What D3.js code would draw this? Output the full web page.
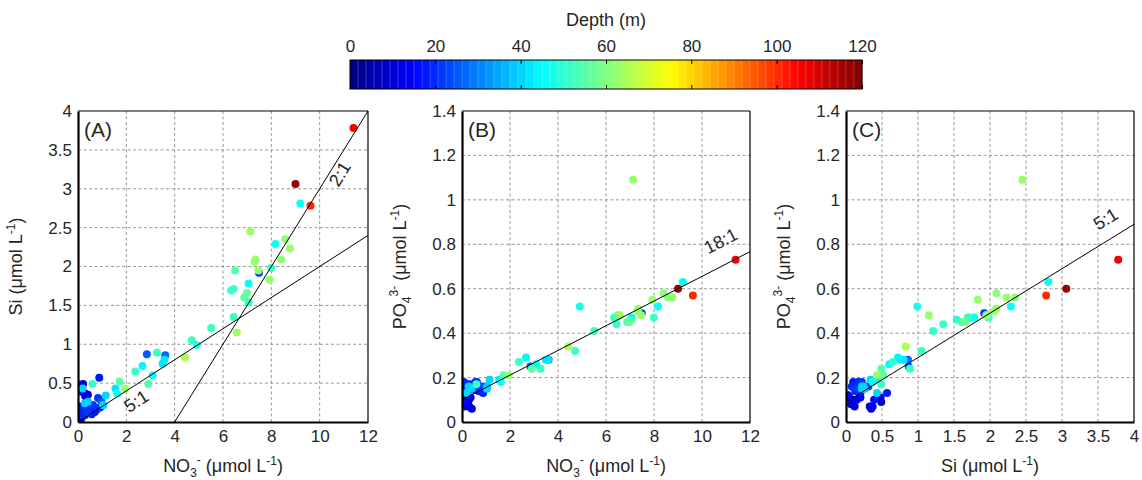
<!DOCTYPE html>
<html><head><meta charset="utf-8">
<script src="https://cdn.jsdelivr.net/npm/d3@7"></script>
<style>body{margin:0;background:#fff}svg{display:block}text{font-family:"Liberation Sans",Arial,sans-serif;fill:#262626}</style>
</head><body>
<svg id="c" width="1142" height="480"></svg>
<script>
// ---- data: one entry per sample ----
const no3 = [11.4,9.0,9.62,9.2,7.13,8.17,8.58,8.77,7.34,7.31,8.41,7.99,7.49,7.47,7.93,7.06,6.5,6.34,6.44,6.99,6.88,7.06,6.44,6.57,5.51,4.71,4.91,4.43,
  2.85,3.27,3.61,3.58,3.5,2.67,2.37,3.09,2.91,1.72,1.95,1.55,1.62,0.88,0.6,1.15,1.05,0.83,0.69,0.55,0.21,0.07,0.19,0.14,0.28,0.41,0.3,
  0.41,0.28,0.07,0.14,0.21,0.07,0.35,0.62,0.97,1.04,0.14,0.0,0.05,0.1,0.0,0.5,0.78,0.43,0.92,0.22,0.08,0.57,0.1,0.36,0.29];
const si = [3.78,3.06,2.78,2.81,2.45,2.29,2.35,2.23,2.09,2.06,2.09,1.98,1.92,1.95,1.83,1.78,1.95,1.69,1.71,1.66,1.60,1.54,1.35,1.15,1.21,1.05,0.99,0.83,
  0.87,0.89,0.86,0.80,0.75,0.72,0.65,0.60,0.49,0.52,0.43,0.43,0.37,0.57,0.49,0.34,0.22,0.31,0.13,0.18,0.49,0.48,0.43,0.39,0.37,0.35,0.33,
  0.26,0.24,0.20,0.15,0.11,0.07,0.15,0.22,0.26,0.22,0.05,0.03,0.10,0.12,0.15,0.14,0.16,0.12,0.19,0.08,0.17,0.10,0.02,0.20,0.09];
const po4 = [0.73,0.60,0.57,0.63,1.09,0.52,0.56,0.56,0.51,0.50,0.58,0.47,0.49,0.48,0.55,0.47,0.48,0.47,0.47,0.45,0.45,0.46,0.44,0.48,0.41,0.32,0.52,0.34,
  0.25,0.24,0.28,0.28,0.28,0.29,0.27,0.26,0.24,0.21,0.21,0.19,0.18,0.13,0.17,0.19,0.16,0.16,0.14,0.15,0.09,0.11,0.13,0.10,0.07,0.06,0.07,
  0.15,0.16,0.13,0.16,0.17,0.08,0.17,0.18,0.16,0.15,0.11,0.12,0.08,0.07,0.10,0.145,0.137,0.15,0.145,0.16,0.18,0.18,0.12,0.11,0.10];
const depth = [105,118,100,46,62,46,60,62,62,63,60,52,22,62,62,45,55,52,52,58,55,50,52,62,52,52,48,65,
  25,52,27,42,42,44,52,45,55,55,62,42,45,18,52,40,38,22,10,15,8,10,40,15,12,10,8,
  38,40,15,18,12,10,20,22,25,40,10,15,5,8,12,18,20,22,15,20,20,18,12,14,10];

const xTicksN = [0,2,4,6,8,10,12];
const xTicksSi = [0,0.5,1,1.5,2,2.5,3,3.5,4];
const yTicksSi = [0,0.5,1,1.5,2,2.5,3,3.5,4];
const yTicksP = [0,0.2,0.4,0.6,0.8,1,1.2,1.4];
const depthTicks = [0,20,40,60,80,100,120];

// ---- colormap (MATLAB jet, 64 levels) ----
function jet(t){
  const c = v => Math.max(0, Math.min(1, v));
  const r = c(Math.min(4*t-1.5, -4*t+4.5)), g = c(Math.min(4*t-0.5, -4*t+3.5)), b = c(Math.min(4*t+0.5, -4*t+2.5));
  return d3.rgb(r*255, g*255, b*255).toString();
}
const NLEV = 64;
const depthColor = d => { let k = Math.floor(d/120*NLEV); k = Math.max(0, Math.min(NLEV-1, k)); return jet((k+0.5)/NLEV); };

const svg = d3.select("#c");
const FONT = '"Liberation Sans",Arial,sans-serif';
const TICK_FS = 17, LAB_FS = 18, SUB_FS = 12;

// ---- colorbar ----
const cbx = d3.scaleLinear().domain([0,120]).range([350,862]);
const cbTop = 60, cbBot = 89;
const levels = d3.range(NLEV);
svg.append("g").selectAll("rect").data(levels).join("rect")
  .attr("x", k => cbx(k*120/NLEV)).attr("y", cbTop)
  .attr("width", cbx(120/NLEV)-cbx(0)+0.3).attr("height", cbBot-cbTop)
  .attr("fill", k => jet((k+0.5)/NLEV));
svg.append("g").selectAll("line").data(levels.slice(1)).join("line")
  .attr("x1", k => cbx(k*120/NLEV)).attr("x2", k => cbx(k*120/NLEV))
  .attr("y1", cbTop).attr("y2", cbBot).attr("stroke", "rgba(255,255,255,0.35)").attr("stroke-width", 0.6);
svg.append("rect").attr("x", 350).attr("y", cbTop).attr("width", 512).attr("height", cbBot-cbTop)
  .attr("fill", "none").attr("stroke", "#000").attr("stroke-width", 1);
const cbAxis = d3.axisTop(cbx).tickValues(depthTicks).tickSize(-4).tickPadding(8).tickFormat(d3.format("d"));
const cbg = svg.append("g").attr("transform", `translate(0,${cbTop})`).call(cbAxis);
cbg.select(".domain").remove();
cbg.selectAll("text").attr("font-size", TICK_FS).attr("fill", "#262626").attr("font-family", FONT);
cbg.selectAll("line").attr("stroke", "#000");
const cbg2 = svg.append("g").attr("transform", `translate(0,${cbBot})`).call(d3.axisBottom(cbx).tickValues(depthTicks).tickSize(-4).tickFormat(""));
cbg2.select(".domain").remove();
cbg2.selectAll("line").attr("stroke", "#000");
svg.append("text").attr("x", 606).attr("y", 26).attr("text-anchor", "middle").attr("font-size", LAB_FS).text("Depth (m)");

// ---- panels ----
const yTop = 111, yBot = 422;
const panels = [
  {x0:78, x1:368, xd:[0,12], yd:[0,4], xs:no3, ys:si, xt:xTicksN, yt:yTicksSi, tag:"(A)", xl:"N", yl:"Si",
    lines:[{f:x=>0.2*x, a:0, b:12, lab:"5:1", lx:2.55, ly:0.2},{f:x=>0.5*(x-4), a:4, b:12, lab:"2:1", lx:11.05, ly:3.15}]},
  {x0:462, x1:750, xd:[0,12], yd:[0,1.4], xs:no3, ys:po4, xt:xTicksN, yt:yTicksP, tag:"(B)", xl:"N", yl:"P",
    lines:[{f:x=>x/18+0.1, a:0, b:12, lab:"18:1", lx:10.9, ly:0.79}]},
  {x0:846, x1:1134, xd:[0,4], yd:[0,1.4], xs:si, ys:po4, xt:xTicksSi, yt:yTicksP, tag:"(C)", xl:"Si", yl:"P",
    lines:[{f:x=>0.2*x+0.09, a:0, b:4, lab:"5:1", lx:3.65, ly:0.89}]}
];

const fmt = d => String(d);
panels.forEach(p => {
  const x = d3.scaleLinear().domain(p.xd).range([p.x0, p.x1]);
  const y = d3.scaleLinear().domain(p.yd).range([yBot, yTop]);
  const g = svg.append("g");
  // grid
  g.append("g").selectAll("line").data(p.xt.slice(1,-1)).join("line")
    .attr("x1", d=>x(d)).attr("x2", d=>x(d)).attr("y1", yTop).attr("y2", yBot)
    .attr("stroke", "#8c8c8c").attr("stroke-width", 0.9).attr("stroke-dasharray", "3,2.5");
  g.append("g").selectAll("line").data(p.yt.slice(1,-1)).join("line")
    .attr("y1", d=>y(d)).attr("y2", d=>y(d)).attr("x1", p.x0).attr("x2", p.x1)
    .attr("stroke", "#8c8c8c").attr("stroke-width", 0.9).attr("stroke-dasharray", "3,2.5");
  // points
  const idx = d3.range(p.xs.length).sort((a,b)=>depth[a]-depth[b]);
  const clip = "clip"+p.tag.replace(/\W/g,"");
  svg.append("clipPath").attr("id", clip).append("rect").attr("x", p.x0).attr("y", yTop).attr("width", p.x1-p.x0).attr("height", yBot-yTop);
  g.append("g").attr("clip-path", `url(#${clip})`).selectAll("circle").data(idx).join("circle")
    .attr("cx", i=>x(p.xs[i])).attr("cy", i=>y(p.ys[i])).attr("r", 4)
    .attr("fill", i=>depthColor(depth[i]));
  // ratio lines
  p.lines.forEach(L => {
    const pts = [L.a, L.b].map(v => [x(v), y(L.f(v))]);
    g.append("line").attr("x1", pts[0][0]).attr("y1", pts[0][1]).attr("x2", pts[1][0]).attr("y2", pts[1][1])
      .attr("stroke", "#000").attr("stroke-width", 1);
    const ang = -Math.atan2(y(L.f(L.a)) - y(L.f(L.b)), x(L.b) - x(L.a)) * 180/Math.PI;
    g.append("text").attr("transform", `translate(${x(L.lx)},${y(L.ly)}) rotate(${ang})`)
      .attr("text-anchor", "middle").attr("font-size", LAB_FS).attr("fill", "#000").text(L.lab);
  });
  // frame
  g.append("line").attr("x1", p.x0).attr("x2", p.x1).attr("y1", yTop).attr("y2", yTop).attr("stroke", "#000").attr("stroke-width", 1.2);
  g.append("line").attr("x1", p.x1).attr("x2", p.x1).attr("y1", yTop).attr("y2", yBot).attr("stroke", "#000").attr("stroke-width", 1.2);
  // axes
  const ax = g.append("g").attr("transform", `translate(0,${yBot})`)
    .call(d3.axisBottom(x).tickValues(p.xt).tickSize(0).tickPadding(8).tickFormat(fmt));
  ax.select(".domain").attr("stroke", "#000").attr("stroke-width", 2.2);
  ax.selectAll("text").attr("font-size", TICK_FS).attr("fill", "#262626").attr("font-family", FONT);
  const ay = g.append("g").attr("transform", `translate(${p.x0},0)`)
    .call(d3.axisLeft(y).tickValues(p.yt).tickSize(0).tickPadding(6).tickFormat(fmt));
  ay.select(".domain").attr("stroke", "#000").attr("stroke-width", 2.2);
  ay.selectAll("text").attr("font-size", TICK_FS).attr("fill", "#262626").attr("font-family", FONT);
  // panel tag
  g.append("text").attr("x", p.x0+6).attr("y", yTop+26).attr("font-size", 21).attr("fill", "#000").text(p.tag);
  // x label
  const xc = (p.x0+p.x1)/2;
  const xl = g.append("text").attr("x", xc).attr("y", 472).attr("text-anchor", "middle").attr("font-size", LAB_FS);
  if (p.xl === "N") {
    xl.append("tspan").text("NO");
    xl.append("tspan").attr("font-size", SUB_FS).attr("dy", 5).text("3");
    xl.append("tspan").attr("font-size", SUB_FS).attr("dx", 0).attr("dy", -13).text("-");
    xl.append("tspan").attr("dy", 8).text(" (μmol L");
  } else {
    xl.append("tspan").text("Si (μmol L");
  }
  xl.append("tspan").attr("font-size", SUB_FS).attr("dy", -7).text("-1");
  xl.append("tspan").attr("dy", 7).text(")");
  // y label
  const yc = (yTop+yBot)/2;
  const yx = p.x0 - (p.yl === "Si" ? 56 : 56);
  const yl = g.append("text").attr("transform", `translate(${yx},${yc}) rotate(-90)`).attr("text-anchor", "middle").attr("font-size", LAB_FS);
  if (p.yl === "P") {
    yl.append("tspan").text("PO");
    yl.append("tspan").attr("font-size", SUB_FS).attr("dy", 5).text("4");
    yl.append("tspan").attr("font-size", SUB_FS).attr("dy", -13).text("3-");
    yl.append("tspan").attr("dy", 8).text(" (μmol L");
  } else {
    yl.append("tspan").text("Si (μmol L");
  }
  yl.append("tspan").attr("font-size", SUB_FS).attr("dy", -7).text("-1");
  yl.append("tspan").attr("dy", 7).text(")");
});
</script>
</body></html>
